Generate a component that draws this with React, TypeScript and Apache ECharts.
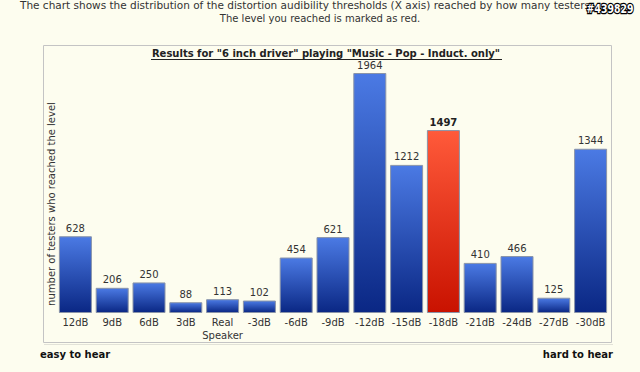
import React, { useEffect, useRef } from "react";
import * as echarts from "echarts";

const categories = ["12dB", "9dB", "6dB", "3dB", "Real\nSpeaker", "-3dB", "-6dB", "-9dB", "-12dB", "-15dB", "-18dB", "-21dB", "-24dB", "-27dB", "-30dB"];
const counts = [628, 206, 250, 88, 113, 102, 454, 621, 1964, 1212, 1497, 410, 466, 125, 1344];
const markedIndex = 10;

const FONT = "DejaVu Sans";

export default function App() {
  const ref = useRef<HTMLDivElement>(null);
  useEffect(() => {
    document.body.style.margin = "0";
    const chart = echarts.init(ref.current!, null, { renderer: "svg" });
    const blue = new echarts.graphic.LinearGradient(0, 0, 0, 1, [
      { offset: 0, color: "#4b7ae4" },
      { offset: 1, color: "#0a2784" },
    ]);
    const red = new echarts.graphic.LinearGradient(0, 0, 0, 1, [
      { offset: 0, color: "#ff5a3a" },
      { offset: 1, color: "#c91200" },
    ]);
    chart.setOption({
      animation: false,
      backgroundColor: "#fdfdef",
      grid: { left: 57, right: 31, top: 73, bottom: 59 },
      xAxis: {
        type: "category",
        data: categories,
        axisLine: { show: false },
        axisTick: { show: false },
        axisLabel: { color: "#333", fontFamily: FONT, fontSize: 10, margin: 3, lineHeight: 13, interval: 0 },
      },
      yAxis: {
        type: "value",
        min: 0,
        max: 1964,
        show: false,
        splitLine: { show: false },
      },
      graphic: [
        {
          type: "rect",
          shape: { x: 43.5, y: 45.5, width: 568, height: 297 },
          style: { fill: "none", stroke: "#c4c4c4", lineWidth: 1 },
          z: -1,
        },
        {
          type: "line",
          shape: { x1: 44, y1: 344.5, x2: 613, y2: 344.5 },
          style: { stroke: "#e2e2d8", lineWidth: 1 },
        },
        {
          type: "text",
          x: 20,
          y: 5,
          style: {
            text: "The chart shows the distribution of the distortion audibility thresholds (X axis) reached by how many testers",
            fill: "#333",
            font: `10.5px '${FONT}'`,
            align: "left",
            verticalAlign: "middle",
          },
        },
        {
          type: "text",
          x: 320,
          y: 18,
          style: {
            text: "The level you reached is marked as red.",
            fill: "#333",
            font: `10px '${FONT}'`,
            align: "center",
            verticalAlign: "middle",
          },
        },
        {
          type: "text",
          x: 610,
          y: 8,
          scaleX: 0.72,
          style: {
            text: "#439829",
            fill: "#fff",
            stroke: "#000",
            lineWidth: 2.5,
            font: `bold 13px '${FONT}'`,
            align: "center",
            verticalAlign: "middle",
          },
        },
        {
          type: "text",
          x: 326,
          y: 53,
          style: {
            text: 'Results for "6 inch driver" playing "Music - Pop - Induct. only"',
            fill: "#222",
            font: `bold 10px '${FONT}'`,
            align: "center",
            verticalAlign: "middle",
          },
        },
        {
          type: "line",
          shape: { x1: 151, y1: 59.5, x2: 502, y2: 59.5 },
          style: { stroke: "#222", lineWidth: 1 },
        },
        {
          type: "text",
          x: 51,
          y: 204,
          rotation: Math.PI / 2,
          style: {
            text: "number of testers who reached the level",
            fill: "#333",
            font: `10px '${FONT}'`,
            align: "center",
            verticalAlign: "middle",
          },
        },
        {
          type: "text",
          x: 40,
          y: 354,
          style: {
            text: "easy to hear",
            fill: "#111",
            font: `bold 10px '${FONT}'`,
            align: "left",
            verticalAlign: "middle",
          },
        },
        {
          type: "text",
          x: 613,
          y: 354,
          style: {
            text: "hard to hear",
            fill: "#111",
            font: `bold 10px '${FONT}'`,
            align: "right",
            verticalAlign: "middle",
          },
        },
      ],
      series: [
        {
          type: "bar",
          barWidth: 33,
          data: counts.map((v, i) => ({
            value: v,
            itemStyle: { color: i === markedIndex ? red : blue },
            label: i === markedIndex ? { fontWeight: "bold", color: "#222" } : undefined,
          })),
          itemStyle: { borderColor: "#8a94a8", borderWidth: 1 },
          label: {
            show: true,
            position: "top",
            distance: 3,
            color: "#333",
            fontFamily: FONT,
            fontSize: 10,
          },
        },
      ],
    });
    return () => chart.dispose();
  }, []);
  return <div ref={ref} style={{ width: 640, height: 372 }} />;
}
